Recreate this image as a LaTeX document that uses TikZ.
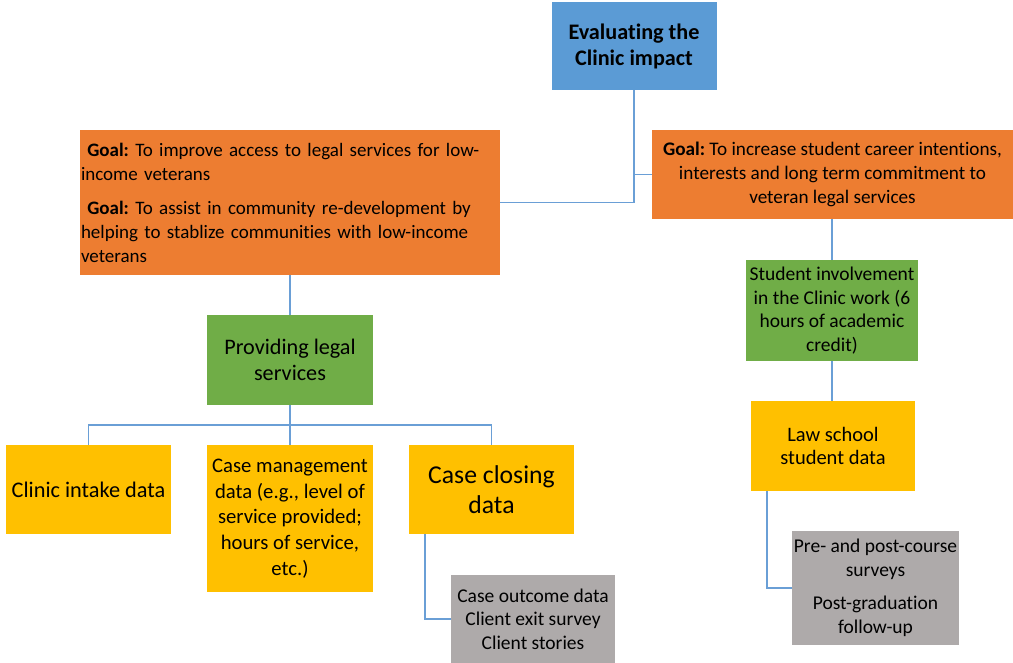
\documentclass[tikz,border=0pt]{standalone}
\usepackage{fontspec}
\setmainfont{Carlito}[Ligatures=NoCommon]
\definecolor{cblue}{HTML}{5B9BD5}
\definecolor{corange}{HTML}{ED7D31}
\definecolor{cgreen}{HTML}{70AD47}
\definecolor{cyellow}{HTML}{FFC000}
\definecolor{cgray}{HTML}{AEAAAA}
\definecolor{cline}{HTML}{6A9FD6}
\begin{document}
\frenchspacing
\begin{tikzpicture}[x=1pt,y=-1pt,
  box/.style={rectangle, inner sep=1pt, align=center, text=black},
  conn/.style={draw=cline, line width=1.6pt}]
\useasboundingbox (0,0) rectangle (1013,663);

\node[box, fill=cblue, minimum width=165pt, minimum height=88pt, font=\fontsize{22.2}{26}\selectfont\bfseries] (top) at (634,46) {Evaluating the\\Clinic impact};

\node[box, fill=corange, minimum width=420pt, minimum height=145pt, text width=418pt, align=left, font=\fontsize{19}{24}\selectfont] (leftgoal) at (290,202.5)
 {\ \textbf{Goal:} To improve access to legal services for low-\\income veterans\\[10pt]
  \ \textbf{Goal:} To assist in community re-development by\\helping to stablize communities with low-income\\veterans};

\node[box, fill=corange, minimum width=361pt, minimum height=89pt, font=\fontsize{19.2}{24}\selectfont] (rightgoal) at (832.5,174.5)
 {\textbf{Goal:} To increase student career intentions,\\interests and long term commitment to\\veteran legal services};

\node[box, fill=cgreen, minimum width=166pt, minimum height=90pt, font=\fontsize{22.2}{26}\selectfont] (prov) at (290,360) {Providing legal\\services};

\node[box, fill=cyellow, minimum width=165pt, minimum height=89pt, font=\fontsize{22.3}{26}\selectfont] (clinic) at (88.5,489.5) {Clinic intake data};

\node[box, fill=cyellow, minimum width=166pt, minimum height=147pt, font=\fontsize{20.7}{25.7}\selectfont] (casemgmt) at (290,518.5)
 {Case management\\data (e.g., level of\\service provided;\\hours of service,\\etc.)};

\node[box, fill=cyellow, minimum width=165pt, minimum height=89pt, font=\fontsize{25.7}{30}\selectfont] (closing) at (491.5,489.5) {Case closing\\data};

\node[box, fill=cgray, minimum width=164pt, minimum height=88pt, font=\fontsize{19.5}{23.5}\selectfont] (grayL) at (533,619)
 {Case outcome data\\Client exit survey\\Client stories};

\node[box, fill=cgreen, minimum width=172pt, minimum height=101pt, font=\fontsize{19.5}{23.7}\selectfont] (stud) at (832,310.5)
 {Student involvement\\in the Clinic work (6\\hours of academic\\credit)};

\node[box, fill=cyellow, minimum width=164pt, minimum height=90pt, font=\fontsize{20.5}{23.5}\selectfont] (law) at (833,446) {Law school\\student data};

\node[box, fill=cgray, minimum width=167pt, minimum height=114pt, font=\fontsize{19.5}{24}\selectfont] (grayR) at (875.5,588)
 {Pre- and post-course\\surveys\\[9pt]Post-graduation\\follow-up};

% connectors
\draw[conn] (top.south) |- (leftgoal.east);
\draw[conn] (top.south |- rightgoal.west) -- (rightgoal.west);
\draw[conn] (leftgoal.south) -- (prov.north);
\coordinate (bus) at (290,425);
\draw[conn] (prov.south) -- (casemgmt.north);
\draw[conn] (clinic.north) |- (bus) -| (closing.north);
\draw[conn] ([xshift=16pt]closing.south west) |- (grayL.west);
\draw[conn] (rightgoal.south -| stud.north) -- (stud.north);
\draw[conn] (stud.south) -- (stud.south |- law.north);
\draw[conn] ([xshift=16pt]law.south west) |- (grayR.west);
\end{tikzpicture}
\end{document}
